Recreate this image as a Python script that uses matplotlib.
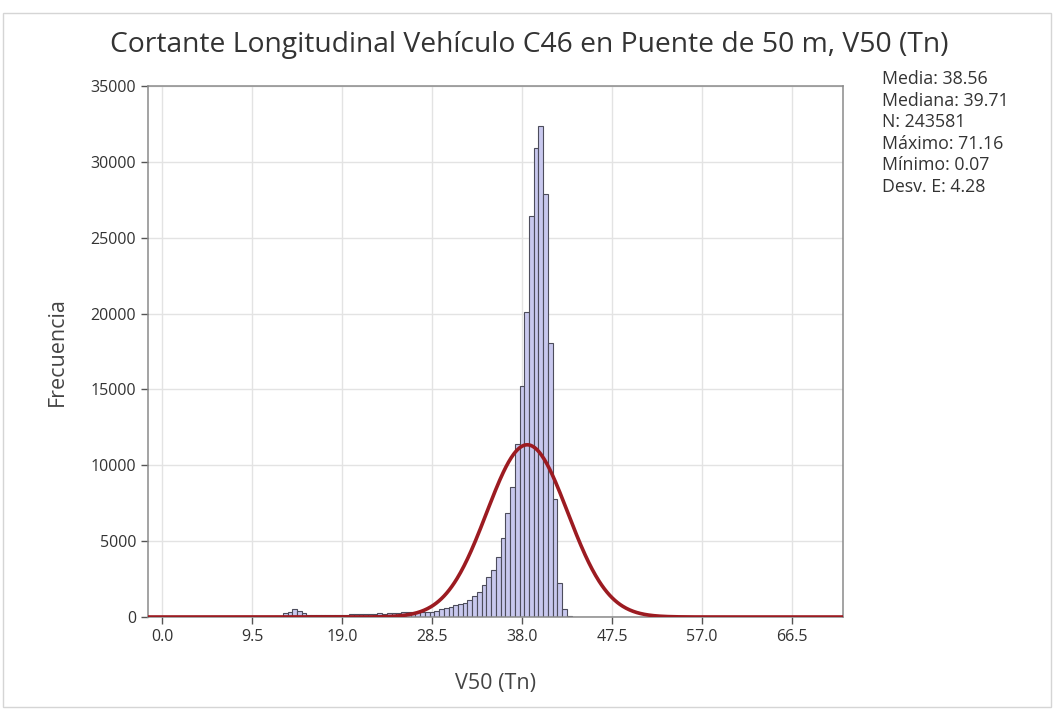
import matplotlib
matplotlib.use('Agg')
import matplotlib.pyplot as plt
from matplotlib.patches import Rectangle
import numpy as np

plt.rcParams['font.family'] = ['Open Sans', 'DejaVu Sans']

ancho_clase = 0.5
centros = np.arange(13.0, 43.01, 0.5)
frecuencias = [240, 350, 510, 420, 240, 140, 130, 120, 120, 130,
               120, 130, 130, 140, 200, 220, 220, 230, 220, 230,
               240, 230, 240, 250, 260, 300, 300, 310, 320, 330,
               340, 350, 420, 530, 590, 680, 790, 860, 950, 1120,
               1390, 1670, 2110, 2640, 3100, 3980, 5200, 6850, 8600, 11400,
               15210, 20100, 26420, 30910, 32360, 27870, 18080, 7800, 2270, 530,
               60]

# resumen
media = 38.56
mediana = 39.71
n_total = 243581
maximo = 71.16
minimo = 0.07
desv = 4.28

x_ticks = [0.0, 9.5, 19.0, 28.5, 38.0, 47.5, 57.0, 66.5]
y_ticks = [0, 5000, 10000, 15000, 20000, 25000, 30000, 35000]

W, H = 1054, 710
fig = plt.figure(figsize=(W / 100, H / 100), dpi=100)
ax = fig.add_axes([148 / W, 1 - 617 / H, (843 - 148) / W, (617 - 86) / H])

# todas las clases de minimo a maximo (las vacias quedan como linea)
todas = np.arange(0.0, 71.01, 0.5)
alturas = np.zeros(len(todas))
for c, f in zip(centros, frecuencias):
    alturas[int(round(c / ancho_clase))] = f

ax.bar(todas, alturas, width=ancho_clase, color='#c8c8ee', edgecolor='#4d4d5c',
       linewidth=0.8, zorder=2)

# curva normal ajustada
xs = np.linspace(-1.5, 72, 800)
ys = n_total * ancho_clase / (desv * np.sqrt(2 * np.pi)) * np.exp(-0.5 * ((xs - media) / desv) ** 2)
ax.plot(xs, ys, color='#9c1b21', linewidth=2.6, zorder=3)

ax.set_xlim(-1.48, 71.9)
ax.set_ylim(0, 35000)
ax.set_xticks(x_ticks)
ax.set_xticklabels(['%.1f' % v for v in x_ticks])
ax.set_yticks(y_ticks)
ax.grid(True, color='#e3e3e3', linewidth=1, zorder=0)
ax.set_axisbelow(True)
for s in ax.spines.values():
    s.set_color('#8a8a8a')
    s.set_linewidth(1.1)
ax.tick_params(axis='both', colors='#555555', labelcolor='#333333', labelsize=11.5,
               length=5, width=1)

ax.set_xlabel('V50 (Tn)', fontsize=15.5, color='#444444', labelpad=20)
ax.set_ylabel('Frecuencia', fontsize=15.5, color='#444444', labelpad=16)

fig.text(529 / W, 1 - 45 / H, 'Cortante Longitudinal Vehículo C46 en Puente de 50 m, V50 (Tn)',
         ha='center', va='center', fontsize=20.3, color='#333333')

lineas = ['Media: %.2f' % media, 'Mediana: %.2f' % mediana, 'N: %d' % n_total,
          'Máximo: %.2f' % maximo, 'Mínimo: %.2f' % minimo, 'Desv. E: %.2f' % desv]
for i, t in enumerate(lineas):
    fig.text(882 / W, 1 - (79 + 21.6 * i) / H, t, ha='left', va='center',
             fontsize=12.8, color='#333333')

# marco exterior
fig.patches.append(Rectangle((3 / W, 3 / H), 1048 / W, 694 / H, transform=fig.transFigure,
                             fill=False, edgecolor='#d5d5d5', linewidth=1))

fig.savefig('out.png', dpi=100)
